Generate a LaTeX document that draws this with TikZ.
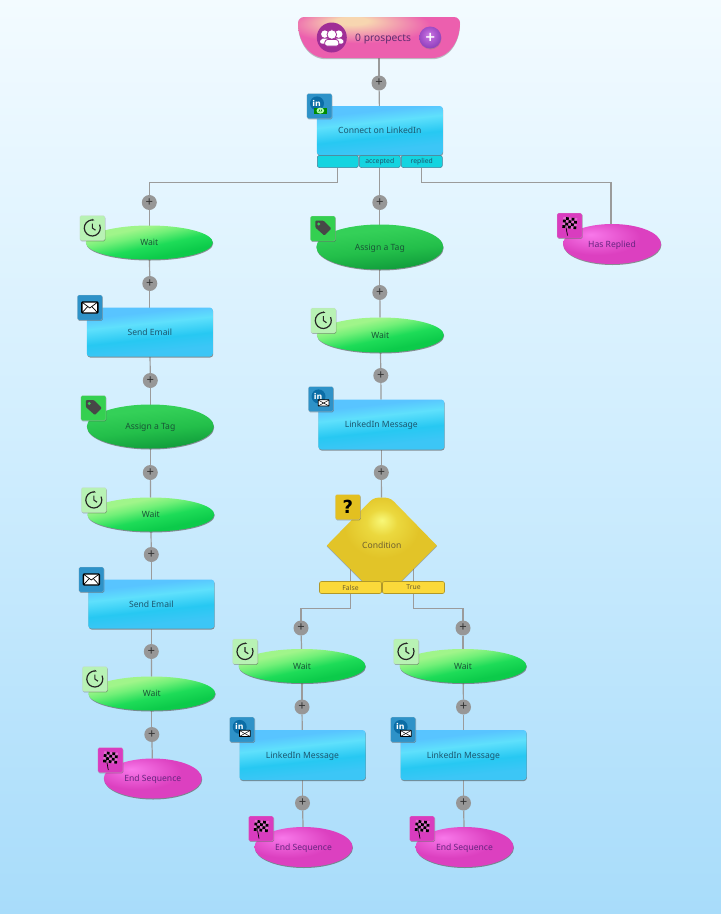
\documentclass[tikz,border=0pt]{standalone}
\usepackage{fontspec}
\setmainfont{Noto Sans}
\newfontfamily\heavyfont{DejaVu Sans}
\usepackage{tikz}
\usetikzlibrary{positioning}
\usetikzlibrary{calc}
\usetikzlibrary{arrows.meta}
\usetikzlibrary{shapes.geometric}
\usetikzlibrary{shadows}
\usetikzlibrary{backgrounds}

\definecolor{pageTop}{HTML}{F3FBFF}
\definecolor{pageMid}{HTML}{CFEDFE}
\definecolor{pageLow}{HTML}{A8DCFA}
\definecolor{lineGrey}{HTML}{9B9B9B}
\definecolor{plusGrey}{HTML}{979797}
\definecolor{blueA}{HTML}{58C4FF}
\definecolor{blueB}{HTML}{5FE0FC}
\definecolor{blueC}{HTML}{27C8F2}
\definecolor{blueD}{HTML}{3CC6F6}
\definecolor{waitA}{HTML}{A0F58A}
\definecolor{waitB}{HTML}{72F078}
\definecolor{waitC}{HTML}{1EDC58}
\definecolor{waitD}{HTML}{0CCB4A}
\definecolor{tagA}{HTML}{34D058}
\definecolor{tagB}{HTML}{23BF4A}
\definecolor{tagC}{HTML}{0F9A3A}
\definecolor{pinkA}{HTML}{F878EA}
\definecolor{pinkB}{HTML}{DC40C0}
\definecolor{pillGlow}{HTML}{F7D6B0}
\definecolor{pillBody}{HTML}{EC5FAE}
\definecolor{yellowA}{HTML}{F8F878}
\definecolor{yellowB}{HTML}{EBD83E}
\definecolor{yellowC}{HTML}{E2C428}
\definecolor{tabCyan}{HTML}{14D4E0}
\definecolor{tabYellow}{HTML}{FBD93A}
\definecolor{iconBlue}{HTML}{2E92C8}
\definecolor{iconMint}{HTML}{B8F2B4}
\definecolor{iconGreen}{HTML}{34D050}
\definecolor{iconPink}{HTML}{D93CBF}
\definecolor{iconYellow}{HTML}{E3C020}
\definecolor{linkBlue}{HTML}{0B6DA6}
\definecolor{addLight}{HTML}{CC7FE4}
\definecolor{addMid}{HTML}{B45FD4}
\definecolor{addDark}{HTML}{8F3FBC}
\definecolor{peopleBack}{HTML}{A02E96}
\definecolor{textBlue}{HTML}{1B566E}
\definecolor{textGreen}{HTML}{185536}
\definecolor{textPink}{HTML}{66247F}
\definecolor{textYellow}{HTML}{6E6030}
\definecolor{textPill}{HTML}{5E2C70}

\pgfdeclareverticalshading{pageface}{100bp}{color(0bp)=(pageLow); color(25bp)=(pageLow); color(50bp)=(pageMid); color(75bp)=(pageTop); color(100bp)=(pageTop)}
\pgfdeclareverticalshading{blueface}{100bp}{color(0bp)=(blueD); color(32bp)=(blueD); color(44bp)=(blueC); color(58bp)=(blueB); color(68bp)=(blueA); color(100bp)=(blueA)}
\pgfdeclareverticalshading{waitface}{100bp}{color(0bp)=(waitD); color(34bp)=(waitD); color(46bp)=(waitC); color(58bp)=(waitB); color(66bp)=(waitA); color(100bp)=(waitA)}
\pgfdeclareverticalshading{tagface}{100bp}{color(0bp)=(tagC); color(26bp)=(tagC); color(46bp)=(tagB); color(66bp)=(tagA); color(100bp)=(tagA)}
\pgfdeclareradialshading{pinkface}{\pgfpoint{-11bp}{12bp}}{color(0bp)=(pinkA); color(22bp)=(pinkB); color(70bp)=(pinkB)}
\pgfdeclareradialshading{pillface}{\pgfpoint{-9bp}{22bp}}{color(0bp)=(pillGlow); color(5bp)=(pillGlow); color(22bp)=(pillBody); color(70bp)=(pillBody)}
\pgfdeclareradialshading{yellowface}{\pgfpoint{0bp}{13bp}}{color(0bp)=(yellowA); color(7bp)=(yellowB); color(17bp)=(yellowC); color(70bp)=(yellowC)}
\pgfdeclareradialshading{addface}{\pgfpoint{-3bp}{6bp}}{color(0bp)=(addLight); color(11bp)=(addMid); color(28bp)=(addDark); color(70bp)=(addDark)}

\tikzset{
	boxtext/.style={font=\fontsize{8.6}{10}\selectfont, text=#1, text height=6.5pt, text depth=0pt},
	softshadow/.style={drop shadow={shadow xshift=0.4pt, shadow yshift=-1pt, opacity=0.65, fill=black!65}},
	flowline/.style={draw=lineGrey, line width=1.2pt},
	plusnode/.style={circle, fill=plusGrey, minimum size=15pt, inner sep=0pt, outer sep=0pt, text=black!80, font=\fontsize{13}{13}\selectfont},
	bluenode/.style={rectangle, rounded corners=3pt, minimum width=126pt, minimum height=49pt, inner sep=0pt, outer sep=0pt, shade, shading=blueface, shading angle=6, softshadow, boxtext={textBlue}},
	waitnode/.style={ellipse, minimum width=127pt, minimum height=34pt, inner sep=0pt, outer sep=0pt, shade, shading=waitface, shading angle=12, softshadow, boxtext={textGreen}},
	tagnode/.style={ellipse, minimum width=127pt, minimum height=44pt, inner sep=0pt, outer sep=0pt, shade, shading=tagface, shading angle=6, softshadow, boxtext={textGreen}},
	endnode/.style={ellipse, minimum width=98pt, minimum height=40pt, inner sep=0pt, outer sep=0pt, shade, shading=pinkface, softshadow, boxtext={textPink}},
	tabnode/.style={rectangle, rounded corners=2pt, minimum width=41pt, minimum height=12pt, inner sep=0pt, outer sep=0pt, draw=cyan!55!black, line width=0.5pt, fill=tabCyan, font=\fontsize{6.8}{8}\selectfont, text=textBlue},
	condtab/.style={rectangle, rounded corners=2pt, minimum width=62pt, minimum height=12pt, inner sep=0pt, outer sep=0pt, draw=black!30!tabYellow, line width=0.6pt, fill=tabYellow, font=\fontsize{6.8}{8}\selectfont, text=textYellow},
	iconbox/.style={rectangle, rounded corners=1.5pt, minimum size=25pt, inner sep=0pt, outer sep=0pt, draw=black!20, draw opacity=0.35, line width=0.5pt, drop shadow={shadow xshift=0.5pt, shadow yshift=-0.8pt, opacity=0.45, fill=black!70}},
	clockglyph/.pic={
		\draw[black!85, line width=1.2pt, -{Stealth[length=2.6pt]}] (25:8) arc[start angle=25, delta angle=-310, radius=8];
		\draw[black!85, line width=1.1pt] (0,4.5) -- (0,0) -- (3.2,-2.2);
	},
	mailglyph/.pic={
		\draw[fill=white, draw=black, line width=1.4pt, rounded corners=1pt] (-8,-5.5) rectangle (8,5.5);
		\draw[black, line width=0.7pt] (-8,5.5) -- (0,-0.5) -- (8,5.5);
		\draw[black, line width=0.7pt] (-8,-5.5) -- (-2,1);
		\draw[black, line width=0.7pt] (8,-5.5) -- (2,1);
	},
	tagglyph/.pic={
		\fill[black!72, rounded corners=1pt] (-7.5,8) -- (0.5,8) -- (8.5,0) -- (1.5,-7) -- (-7.5,1) -- cycle;
		\fill[iconGreen] (-4,4.5) circle[radius=1.6];
	},
	flagglyph/.pic={
		\draw[black, line width=0.7pt] (-4.5,4) -- (-2,-10);
		\begin{scope}[rotate=-6, shift={(-7,-3)}]
			\fill[white, opacity=0.25] (0,0) rectangle (14,11);
			\foreach \i/\j in {0/0,2/0,4/0,1/1,3/1,0/2,2/2,4/2,1/3,3/3}
				\fill[black] (\i*2.8,\j*2.75) rectangle ++(2.8,2.75);
		\end{scope}
	},
	inglyph/.pic={
		\fill[linkBlue] (-2.3,2.6) circle[radius=7];
		\node[text=white, inner sep=0pt, font=\heavyfont\bfseries\fontsize{8}{9}\selectfont] (inmark) at (-2.6,2.8) {in};
	},
	inmailglyph/.pic={
		\pic {inglyph};
		\draw[fill=white, draw=black, line width=0.8pt, rounded corners=0.5pt] (-2.6,-7) rectangle (8.2,-0.8);
		\draw[black, line width=0.5pt] (-2.6,-1) -- (2.8,-4) -- (8.2,-1);
		\draw[black, line width=0.5pt] (-2.6,-7) -- (2.8,-4) -- (8.2,-7);
	},
	inshakeglyph/.pic={
		\pic {inglyph};
		\fill[green!55!black] (-5,-7.5) rectangle (8,-1.5);
		\fill[green!30!white] (1,-4.6) ellipse[x radius=3.8, y radius=3];
		\draw[green!45!black, line width=0.5pt] (-0.5,-6) -- (0.5,-3.5) (1.5,-6) -- (2.5,-3.5);
	},
	peopleglyph/.pic={
		\fill[white] (-7,3.4) circle[radius=3.7];
		\fill[white] (7,3.4) circle[radius=3.7];
		\fill[white, rounded corners=2pt] (-12,-6) -- (-11,-1) -- (-3,-1) -- (-3,-6) -- cycle;
		\fill[white, rounded corners=2pt] (12,-6) -- (11,-1) -- (3,-1) -- (3,-6) -- cycle;
		\fill[white, draw=peopleBack, line width=0.8pt] (0,3) circle[radius=4.8];
		\fill[white, draw=peopleBack, line width=0.8pt, rounded corners=2.5pt] (-7.5,-8.5) -- (-6.5,-2) -- (6.5,-2) -- (7.5,-8.5) -- cycle;
	},
}

\begin{document}
\begin{tikzpicture}[x=1pt, y=1pt]

\useasboundingbox (0,0) rectangle (721,-914);

% top of the sequence
\node[minimum width=162pt, minimum height=41pt, inner sep=0pt, outer sep=0pt] (prospects) at (379,-37.5) {};
\node[circle, fill=peopleBack, minimum size=30pt, inner sep=0pt, left=32pt of prospects.center] (peopleIcon) {};
\pic at (peopleIcon) {peopleglyph};
\node[font=\fontsize{10.3}{11}\selectfont, text=textPill, inner sep=0pt, right=8pt of peopleIcon, yshift=-1.5pt] (prospectCount) {0 prospects};
\node[circle, minimum size=22pt, inner sep=0pt, shade, shading=addface, drop shadow={shadow xshift=0.3pt, shadow yshift=-1pt, opacity=0.4, fill=black!50}, text=white, font=\heavyfont\bfseries\fontsize{13}{13}\selectfont, right=40pt of prospects.center] (prospectAdd) {+};

\node[plusnode, below=17.5pt of prospects] (plusTop) {+};
\node[bluenode, below=15.5pt of plusTop, xshift=0.8pt] (connect) {Connect on LinkedIn};

\node[tabnode, below=0.5pt of connect] (tabAccepted) {accepted};
\node[tabnode, left=1pt of tabAccepted] (tabNone) {};
\node[tabnode, right=1pt of tabAccepted] (tabReplied) {replied};

% ---

\node[plusnode, below=27.5pt of tabNone, xshift=-188.5pt] (plusLa) {+};
\node[waitnode, below=15.5pt of plusLa] (waitLa) {Wait};
\node[plusnode, below=16.5pt of waitLa, xshift=0.5pt] (plusLb) {+};
\node[bluenode, below=16.5pt of plusLb] (emailLa) {Send Email};
\node[plusnode, below=16.5pt of emailLa, xshift=0.5pt] (plusLc) {+};
\node[tagnode, below=16.5pt of plusLc] (tagLa) {Assign a Tag};
\node[plusnode, below=16.5pt of tagLa] (plusLd) {+};
\node[waitnode, below=17.5pt of plusLd, xshift=0.5pt] (waitLb) {Wait};
\node[plusnode, below=15.5pt of waitLb, xshift=0.5pt] (plusLe) {+};
\node[bluenode, below=17.5pt of plusLe] (emailLb) {Send Email};
\node[plusnode, below=15.5pt of emailLb] (plusLf) {+};
\node[waitnode, below=17.5pt of plusLf, xshift=0.5pt] (waitLc) {Wait};
\node[plusnode, below=16.5pt of waitLc] (plusLg) {+};
\node[endnode, below=16.5pt of plusLg, xshift=1pt] (endLa) {End Sequence};

% ---

\node[plusnode, below=27.5pt of tabAccepted] (plusCa) {+};
\node[tagnode, below=14.5pt of plusCa, minimum height=45pt] (tagCa) {Assign a Tag};
\node[plusnode, below=15.5pt of tagCa] (plusCb) {+};
\node[waitnode, below=17.5pt of plusCb, minimum height=35pt, xshift=0.5pt] (waitCa) {Wait};
\node[plusnode, below=15.5pt of waitCa, xshift=0.5pt] (plusCc) {+};
\node[bluenode, below=16.5pt of plusCc, minimum height=50pt, xshift=0.5pt] (messageCa) {LinkedIn Message};
\node[plusnode, below=15.5pt of messageCa] (plusCd) {+};
\node[minimum width=110pt, minimum height=96pt, inner sep=0pt, outer sep=0pt, boxtext={textYellow}, below=17.5pt of plusCd, xshift=0.5pt] (condition) {Condition};
\node[condtab, anchor=south east, xshift=-0.3pt] (tabFalse) at (condition.south) {False};
\node[condtab, anchor=south west, xshift=0.7pt] (tabTrue) at (condition.south) {True};

% ---

\node[plusnode] (plusFa) at (301,-628) {+};
\node[waitnode, below=13.5pt of plusFa, xshift=1pt] (waitFa) {Wait};
\node[plusnode, below=16.5pt of waitFa] (plusFb) {+};
\node[bluenode, minimum height=50pt, below=15.5pt of plusFb, xshift=0.5pt] (messageFa) {LinkedIn Message};
\node[plusnode, below=15.5pt of messageFa] (plusFc) {+};
\node[endnode, below=16.5pt of plusFc, xshift=1pt] (endFa) {End Sequence};

\node[plusnode] (plusTa) at (463,-628) {+};
\node[waitnode, below=13.5pt of plusTa] (waitTa) {Wait};
\node[plusnode, below=16.5pt of waitTa, xshift=0.5pt] (plusTb) {+};
\node[bluenode, minimum height=50pt, below=15.5pt of plusTb] (messageTa) {LinkedIn Message};
\node[plusnode, below=15.5pt of messageTa] (plusTc) {+};
\node[endnode, below=16.5pt of plusTc, xshift=1pt] (endTa) {End Sequence};

\node[endnode] (endRa) at (612,-244) {Has Replied};

% ---

\foreach \n in {waitLa,waitLb,waitLc,waitCa,waitFa,waitTa} {
	\node[iconbox, fill=iconMint] (\n Icon) at ([shift={(6.5,14.5)}]\n.west) {};
	\pic at (\n Icon) {clockglyph};
}
\foreach \n in {emailLa,emailLb} {
	\node[iconbox, fill=iconBlue] (\n Icon) at ([shift={(3,0)}]\n.north west) {};
	\pic at (\n Icon) {mailglyph};
}
\foreach \n in {tagLa,tagCa} {
	\node[iconbox, fill=iconGreen] (\n Icon) at ([shift={(6.5,18.5)}]\n.west) {};
	\pic at (\n Icon) {tagglyph};
}
\foreach \n in {endLa,endFa,endTa,endRa} {
	\node[iconbox, fill=iconPink] (\n Icon) at ([shift={(6.5,18.5)}]\n.west) {};
	\pic at (\n Icon) {flagglyph};
}
\foreach \n in {messageCa,messageFa,messageTa} {
	\node[iconbox, fill=iconBlue] (\n Icon) at ([shift={(2.5,0.5)}]\n.north west) {};
	\pic at (\n Icon) {inmailglyph};
}
\node[iconbox, fill=iconBlue] (connectIcon) at ([shift={(2.5,0)}]connect.north west) {};
\pic at (connectIcon) {inshakeglyph};
\node[iconbox, fill=iconYellow, font=\heavyfont\bfseries\fontsize{18}{18}\selectfont, text=black] (conditionIcon) at ([shift={(-34,38.5)}]condition.center) {?};

% ---

\begin{scope}[on background layer]
	\fill[shading=pageface] (0,0) rectangle (721,-914);

	\foreach \a/\b in {prospects/plusTop,plusTop/connect,
		plusLa/waitLa,waitLa/plusLb,plusLb/emailLa,emailLa/plusLc,plusLc/tagLa,tagLa/plusLd,plusLd/waitLb,waitLb/plusLe,plusLe/emailLb,emailLb/plusLf,plusLf/waitLc,waitLc/plusLg,plusLg/endLa,
		tabAccepted/plusCa,plusCa/tagCa,tagCa/plusCb,plusCb/waitCa,waitCa/plusCc,plusCc/messageCa,messageCa/plusCd,plusCd/condition,
		plusFa/waitFa,waitFa/plusFb,plusFb/messageFa,messageFa/plusFc,plusFc/endFa,
		plusTa/waitTa,waitTa/plusTb,plusTb/messageTa,messageTa/plusTc,plusTc/endTa}
		\draw[flowline] (\a) -- (\b);

	\draw[flowline] (tabNone.south) -- ++(0,-15) -| (plusLa);
	\draw[flowline] ([xshift=-0.5pt]tabReplied.south) -- ++(0,-15) -| ([xshift=-1pt]endRa.north);
	\draw[flowline] ([yshift=20pt]tabFalse.north) -- ++(0,-47) -| (plusFa);
	\draw[flowline] ([yshift=20pt]tabTrue.north) -- ++(0,-47) -| (plusTa);

	\path[shade, shading=pillface, drop shadow={shadow xshift=0pt, shadow yshift=-1.2pt, opacity=0.4, fill=black!60}]
		([xshift=6pt]prospects.north west) -- ([xshift=-6pt]prospects.north east)
		to[out=0, in=90] ([yshift=-6pt]prospects.north east)
		to[out=-90, in=0] ([xshift=-28pt]prospects.south east)
		-- ([xshift=28pt]prospects.south west)
		to[out=180, in=-90] ([yshift=-6pt]prospects.north west)
		to[out=90, in=180] cycle;

	\path[shade, shading=yellowface, drop shadow={shadow xshift=0pt, shadow yshift=-1pt, opacity=0.5, fill=black!60}]
		(condition.west) -- ([shift={(-12,44)}]condition.center)
		to[out=45, in=180] (condition.north)
		to[out=0, in=135] ([shift={(12,44)}]condition.center)
		-- (condition.east) -- ([shift={(9,-46)}]condition.center)
		-- ([shift={(-9,-46)}]condition.center) -- cycle;
\end{scope}

\end{tikzpicture}
\end{document}
